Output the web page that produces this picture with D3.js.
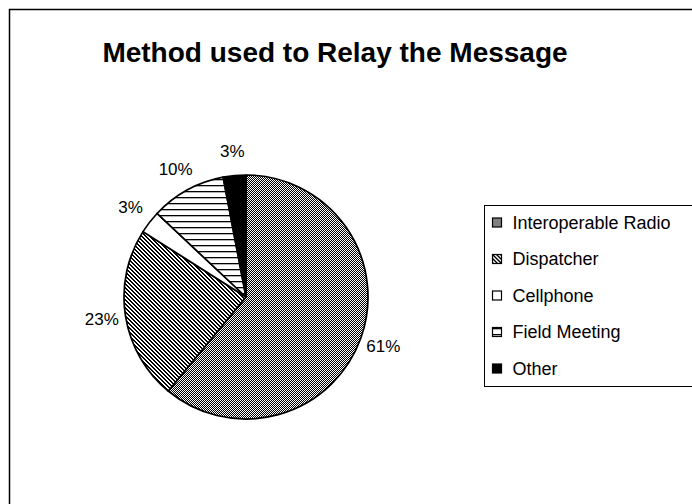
<!DOCTYPE html>
<html>
<head>
<meta charset="utf-8">
<script src="https://cdn.jsdelivr.net/npm/d3@7"></script>
<style>
  html, body { margin: 0; padding: 0; background: #fff; }
  svg { display: block; }
  text { font-family: "Liberation Sans", Arial, sans-serif; fill: #000; }
</style>
</head>
<body>
<svg id="chart" width="692" height="504"></svg>
<script>
// Share of responses by method used to relay the message (percent)
const categories = ["Interoperable Radio", "Dispatcher", "Cellphone", "Field Meeting", "Other"];
const values = [61, 23, 3, 10, 3];
const fillIds = ["pat-dots", "pat-diag", "pat-white", "pat-hlines", "pat-black"];
const titleText = "Method used to Relay the Message";

const svg = d3.select("#chart");
const defs = svg.append("defs");

// Monochrome fill patterns
function pixelPattern(id, w, h, bg, pixels) {
  const p = defs.append("pattern").attr("id", id)
    .attr("patternUnits", "userSpaceOnUse").attr("width", w).attr("height", h);
  p.append("rect").attr("width", w).attr("height", h).attr("fill", bg);
  pixels.forEach(([x, y]) =>
    p.append("rect").attr("x", x).attr("y", y).attr("width", 1).attr("height", 1).attr("fill", "#000"));
  return p;
}
// fine checker stipple
pixelPattern("pat-dots", 2, 2, "#fff", [[0, 0], [1, 1]]);
// dark downward diagonal
pixelPattern("pat-diag", 4, 4, "#fff",
  [[0, 0], [1, 0], [1, 1], [2, 1], [2, 2], [3, 2], [3, 3], [0, 3]]);
pixelPattern("pat-white", 4, 4, "#fff", []);
pixelPattern("pat-black", 4, 4, "#000", []);
// horizontal lines
const hl = defs.append("pattern").attr("id", "pat-hlines")
  .attr("patternUnits", "userSpaceOnUse").attr("width", 6).attr("height", 6);
hl.append("rect").attr("width", 6).attr("height", 6).attr("fill", "#fff");
hl.append("rect").attr("x", 0).attr("y", 2).attr("width", 6).attr("height", 1.3).attr("fill", "#000");

// Chart area frame (right and bottom edges fall outside the view)
svg.append("rect")
  .attr("x", 9.5).attr("y", 9.5).attr("width", 720).attr("height", 540)
  .attr("fill", "none").attr("stroke", "#000").attr("stroke-width", 1.5);

// Title
svg.append("text")
  .attr("x", 335).attr("y", 62)
  .attr("text-anchor", "middle")
  .attr("font-size", 28).attr("font-weight", "bold")
  .text(titleText);

// Pie
const cx = 246, cy = 297, r = 122;
const pie = d3.pie().sort(null).value(d => d.value);
const data = categories.map((c, i) => ({ name: c, value: values[i], fill: fillIds[i] }));
const arcs = pie(data);
const arc = d3.arc().innerRadius(0).outerRadius(r);
const labelArc = d3.arc().innerRadius(146).outerRadius(146);

const g = svg.append("g").attr("transform", `translate(${cx},${cy})`);
g.selectAll("path.slice").data(arcs).join("path")
  .attr("class", "slice")
  .attr("d", arc)
  .attr("fill", d => `url(#${d.data.fill})`)
  .attr("stroke", "#000").attr("stroke-width", 1.7)
  .attr("stroke-linejoin", "round");

const total = d3.sum(values);
g.selectAll("text.pct").data(arcs).join("text")
  .attr("class", "pct")
  .attr("transform", d => `translate(${labelArc.centroid(d)})`)
  .attr("text-anchor", "middle")
  .attr("dominant-baseline", "central")
  .attr("font-size", 17)
  .text(d => Math.round(d.data.value / total * 100) + "%");

// Legend
const lg = svg.append("g").attr("transform", "translate(484.5,205.5)");
lg.append("rect").attr("width", 300).attr("height", 181)
  .attr("fill", "#fff").attr("stroke", "#000").attr("stroke-width", 1);
const rowY = d3.scalePoint().domain(categories).range([17, 163]);
const item = lg.selectAll("g.item").data(data).join("g")
  .attr("class", "item")
  .attr("transform", d => `translate(0,${rowY(d.name)})`);
item.append("rect")
  .attr("x", 8).attr("y", -4.5).attr("width", 9).attr("height", 9)
  .attr("fill", d => `url(#${d.fill})`)
  .attr("stroke", "#000").attr("stroke-width", 1.2);
item.append("text")
  .attr("x", 28).attr("y", 0)
  .attr("dominant-baseline", "central")
  .attr("font-size", 18)
  .text(d => d.name);
</script>
</body>
</html>
